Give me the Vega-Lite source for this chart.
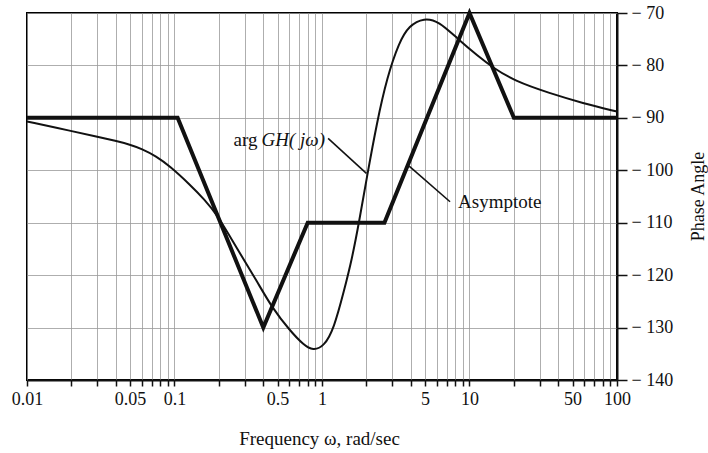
{
  "$schema": "https://vega.github.io/schema/vega-lite/v6.json",
  "width": 590,
  "height": 367,
  "autosize": {"type": "none"},
  "padding": {"left": 27, "top": 13, "right": 91, "bottom": 73},
  "background": "white",
  "config": {
    "view": {"stroke": "black", "strokeWidth": 2},
    "font": "Liberation Serif"
  },
  "encoding": {
    "x": {
      "field": "w",
      "type": "quantitative",
      "scale": {"type": "log", "domain": [0.01, 100], "nice": false},
      "axis": {
        "title": "Frequency ω, rad/sec",
        "values": [0.01,0.02,0.03,0.04,0.05,0.06,0.07,0.08,0.09,0.1,0.2,0.3,0.4,0.5,0.6,0.7,0.8,0.9,1,2,3,4,5,6,7,8,9,10,20,30,40,50,60,70,80,90,100],
        "labelExpr": "indexof([0.01,0.05,0.1,0.5,1,5,10,50,100], datum.value) >= 0 ? format(datum.value, '~g') : ''",
        "labelOverlap": false,
        "labelBound": false,
        "labelFlush": false,
        "labelFont": "Liberation Serif",
        "labelFontSize": 18,
        "labelColor": "#111",
        "labelPadding": 4,
        "tickSize": 6,
        "tickColor": "#111",
        "tickWidth": 1.5,
        "domainColor": "#111",
        "domainWidth": 2,
        "grid": true,
        "gridColor": "#9a9a9a",
        "gridWidth": 1,
        "gridOpacity": 0.8,
        "titleFont": "Liberation Serif",
        "titleFontSize": 19,
        "titleFontWeight": "normal",
        "titleColor": "#111",
        "titleX": 292,
        "titleY": 64,
        "titleAlign": "center",
        "titleBaseline": "alphabetic"
      }
    },
    "y": {
      "field": "deg",
      "type": "quantitative",
      "scale": {"domain": [-140, -70], "nice": false, "zero": false},
      "axis": {
        "orient": "right",
        "title": "Phase Angle",
        "values": [-140,-130,-120,-110,-100,-90,-80,-70],
        "labelExpr": "'\u2212 ' + abs(datum.value)",
        "labelFont": "Liberation Serif",
        "labelFontSize": 18,
        "labelColor": "#111",
        "labelPadding": 4,
        "tickSize": 10,
        "tickColor": "#111",
        "tickWidth": 1.5,
        "domainColor": "#111",
        "domainWidth": 2,
        "grid": true,
        "gridColor": "#9a9a9a",
        "gridWidth": 1,
        "gridOpacity": 0.8,
        "titleFont": "Liberation Serif",
        "titleFontSize": 18,
        "titleFontWeight": "normal",
        "titleColor": "#111",
        "titleAngle": 270,
        "titleX": 81,
        "titleY": 183,
        "titleAlign": "center",
        "titleBaseline": "middle"
      }
    }
  },
  "layer": [
    {
      "data": {"values": [
        {"w": 0.01, "deg": -90},
        {"w": 0.105, "deg": -90},
        {"w": 0.4, "deg": -130},
        {"w": 0.8, "deg": -110},
        {"w": 2.65, "deg": -110},
        {"w": 10, "deg": -70},
        {"w": 20, "deg": -90},
        {"w": 100, "deg": -90}
      ]},
      "mark": {"type": "line", "color": "#111", "strokeWidth": 4, "strokeJoin": "miter"}
    },
    {
      "data": {"values": [
        {"w": 0.01, "deg": -90.7},
        {"w": 0.02, "deg": -92.5},
        {"w": 0.03, "deg": -93.6},
        {"w": 0.04, "deg": -94.4},
        {"w": 0.05, "deg": -95.1},
        {"w": 0.06, "deg": -95.9},
        {"w": 0.075, "deg": -97.3},
        {"w": 0.093, "deg": -99.2},
        {"w": 0.127, "deg": -102.7},
        {"w": 0.16, "deg": -105.6},
        {"w": 0.194, "deg": -108.4},
        {"w": 0.265, "deg": -114.9},
        {"w": 0.363, "deg": -121.2},
        {"w": 0.458, "deg": -126.2},
        {"w": 0.607, "deg": -130.6},
        {"w": 0.75, "deg": -133.3},
        {"w": 0.869, "deg": -134.4},
        {"w": 1.032, "deg": -133.6},
        {"w": 1.205, "deg": -130.2},
        {"w": 1.41, "deg": -123},
        {"w": 1.597, "deg": -116.9},
        {"w": 1.781, "deg": -110},
        {"w": 2.018, "deg": -101.2},
        {"w": 2.36, "deg": -90.8},
        {"w": 2.76, "deg": -82.3},
        {"w": 3.33, "deg": -75.6},
        {"w": 3.89, "deg": -72.4},
        {"w": 4.92, "deg": -70.9},
        {"w": 6.21, "deg": -71.6},
        {"w": 8.22, "deg": -74.8},
        {"w": 11.5, "deg": -78.3},
        {"w": 14.4, "deg": -80.4},
        {"w": 20.3, "deg": -83},
        {"w": 35, "deg": -85.3},
        {"w": 58.6, "deg": -87.2},
        {"w": 100, "deg": -88.8}
      ]},
      "mark": {"type": "line", "color": "#111", "strokeWidth": 2, "interpolate": "basis"}
    },
    {
      "data": {"values": [
        {"w": 1.1, "deg": -93.9, "w2": 2.0, "deg2": -100.6},
        {"w": 7.38, "deg": -106, "w2": 3.9, "deg2": -99.2}
      ]},
      "mark": {"type": "rule", "color": "#111", "strokeWidth": 1.6},
      "encoding": {
        "x2": {"field": "w2"},
        "y2": {"field": "deg2"}
      }
    },
    {
      "data": {"values": [{"w": 0.377, "deg": -95.3, "label": "arg"}]},
      "mark": {"type": "text", "align": "right", "baseline": "alphabetic", "dx": -2, "font": "Liberation Serif", "fontSize": 19, "color": "#111"},
      "encoding": {"text": {"field": "label"}}
    },
    {
      "data": {"values": [{"w": 0.377, "deg": -95.3, "label": "GH( jω)"}]},
      "mark": {"type": "text", "align": "left", "baseline": "alphabetic", "dx": 2, "font": "Liberation Serif", "fontSize": 19, "fontStyle": "italic", "color": "#111"},
      "encoding": {"text": {"field": "label"}}
    },
    {
      "data": {"values": [{"w": 8.36, "deg": -107.2, "label": "Asymptote"}]},
      "mark": {"type": "text", "align": "left", "baseline": "alphabetic", "font": "Liberation Serif", "fontSize": 19, "color": "#111"},
      "encoding": {"text": {"field": "label"}}
    }
  ]
}
